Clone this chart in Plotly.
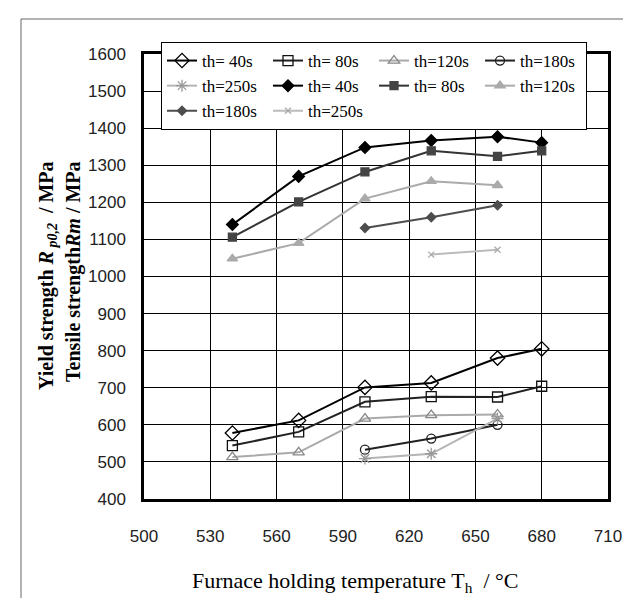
import plotly.graph_objects as go

# ---------------- data ----------------
temps_full = [540, 570, 600, 630, 660, 680]
temps_120 = [540, 570, 600, 630, 660]
temps_180 = [600, 630, 660]
temps_250_y = [600, 630, 660]
temps_250_t = [630, 660]

# Yield strength Rp0,2 (MPa)
ys_40 = [578, 612, 701, 713, 780, 805]
ys_80 = [544, 581, 662, 676, 675, 704]
ys_120 = [513, 526, 617, 626, 628]
ys_180 = [533, 563, 600]
ys_250 = [509, 522, 617]

# Tensile strength Rm (MPa)
ts_40 = [1140, 1270, 1348, 1367, 1377, 1361]
ts_80 = [1106, 1201, 1282, 1339, 1324, 1339]
ts_120 = [1048, 1090, 1210, 1257, 1246]
ts_180 = [1131, 1160, 1192]
ts_250 = [1059, 1072]

x_ticks = [500, 530, 560, 590, 620, 650, 680, 710]
y_ticks = [400, 500, 600, 700, 800, 900, 1000, 1100, 1200, 1300, 1400, 1500, 1600]

# ---------------- layout constants ----------------
W, H = 631, 598
ML, MR, MT, MB = 136, 31, 46, 107
PW = W - ML - MR
PH = H - MT - MB


def px_x(px):
    return (px - ML) / PW


def px_y(py):
    return (H - MB - py) / PH


fig = go.Figure()

series = [
    # name, x, y, line color, marker symbol, marker color, marker line color, size
    ("th= 40s", temps_full, ys_40, "#000000", "diamond-open", "#000000", "#000000", 11),
    ("th= 80s", temps_full, ys_80, "#222222", "square-open", "#111111", "#111111", 10),
    ("th=120s", temps_120, ys_120, "#aaaaaa", "triangle-up-open", "#888888", "#888888", 10),
    ("th=180s", temps_180, ys_180, "#222222", "circle-open", "#222222", "#222222", 9),
    ("th=250s", temps_250_y, ys_250, "#b5b5b5", "asterisk-open", "#999999", "#999999", 10),
    ("th= 40s", temps_full, ts_40, "#000000", "diamond", "#000000", "#000000", 9),
    ("th= 80s", temps_full, ts_80, "#333333", "square", "#444444", "#444444", 8),
    ("th=120s", temps_120, ts_120, "#aaaaaa", "triangle-up", "#aaaaaa", "#aaaaaa", 9),
    ("th=180s", temps_180, ts_180, "#4d4d4d", "diamond", "#4d4d4d", "#4d4d4d", 7),
    ("th=250s", temps_250_t, ts_250, "#bbbbbb", "x-thin-open", "#aaaaaa", "#aaaaaa", 6),
]

for name, xs, ys, lc, sym, mc, mlc, sz in series:
    fig.add_trace(go.Scatter(
        x=xs, y=ys, name=name, mode="lines+markers",
        line=dict(color=lc, width=2),
        marker=dict(symbol=sym, color=mc, size=sz,
                    line=dict(color=mlc, width=1.3)),
    ))

tick_font = dict(family="Liberation Sans, Arial, sans-serif", size=17, color="#222222")

fig.update_xaxes(
    range=[500, 710], tickvals=x_ticks, ticktext=[str(v) for v in x_ticks],
    showgrid=True, gridcolor="#000000", gridwidth=1,
    showline=True, linecolor="#000000", linewidth=2.5, mirror=True,
    ticks="", tickfont=tick_font, ticklabelstandoff=20, zeroline=False,
)
fig.update_yaxes(
    range=[400, 1600], tickvals=y_ticks, ticktext=[str(v) for v in y_ticks],
    showgrid=True, gridcolor="#000000", gridwidth=1,
    showline=True, linecolor="#000000", linewidth=2.5, mirror=True,
    ticks="", tickfont=tick_font, ticklabelstandoff=12, zeroline=False,
)

serif = "Liberation Serif, Times New Roman, serif"

fig.update_layout(
    width=W, height=H,
    margin=dict(l=ML, r=MR, t=MT, b=MB, pad=0),
    plot_bgcolor="white", paper_bgcolor="white",
    showlegend=True,
    legend=dict(
        orientation="h",
        x=px_x(153), y=px_y(34), xanchor="left", yanchor="top",
        bgcolor="white", bordercolor="#000000", borderwidth=1,
        font=dict(family=serif, size=17, color="#000000"),
        entrywidth=61, entrywidthmode="pixels",
        itemwidth=30,
    ),
    annotations=[
        dict(text="Yield strength <i>R</i><sub><i> p0,2</i></sub>  / MPa",
             xref="paper", yref="paper", x=px_x(39), y=px_y(268),
             xanchor="center", yanchor="middle", textangle=-90, showarrow=False,
             font=dict(family=serif, size=20, color="#000000", weight="bold")),
        dict(text="Tensile strength<i>Rm</i> / MPa",
             xref="paper", yref="paper", x=px_x(65), y=px_y(264),
             xanchor="center", yanchor="middle", textangle=-90, showarrow=False,
             font=dict(family=serif, size=20, color="#000000", weight="bold")),
        dict(text="Furnace holding temperature T<sub>h</sub>  / °C",
             xref="paper", yref="paper", x=px_x(347), y=px_y(574),
             xanchor="center", yanchor="middle", showarrow=False,
             font=dict(family=serif, size=22, color="#000000")),
    ],
    shapes=[
        dict(type="line", xref="paper", yref="paper",
             x0=px_x(13), x1=px_x(13), y0=px_y(11), y1=px_y(598),
             line=dict(color="#666666", width=1)),
        dict(type="line", xref="paper", yref="paper",
             x0=px_x(13), x1=px_x(631), y0=px_y(11), y1=px_y(11),
             line=dict(color="#666666", width=1)),
    ],
)

fig.write_html("out.html")
